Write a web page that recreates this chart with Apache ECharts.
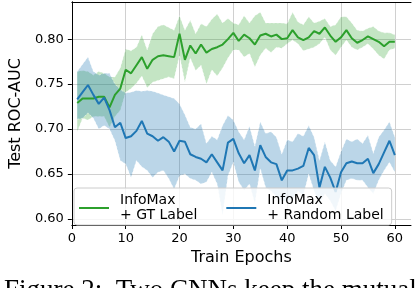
<!DOCTYPE html>
<html>
<head>
<meta charset="utf-8">
<script src="https://cdn.jsdelivr.net/npm/echarts@6/dist/echarts.min.js"></script>
<style>
html,body{margin:0;padding:0;background:#fff;}
#chart{width:416px;height:288px;}
</style>
</head>
<body>
<div id="chart"></div>
<script>
const epochs = [1,2,3,4,5,6,7,8,9,10,11,12,13,14,15,16,17,18,19,20,21,22,23,24,25,26,27,28,29,30,31,32,33,34,35,36,37,38,39,40,41,42,43,44,45,46,47,48,49,50,51,52,53,54,55,56,57,58,59,60];

const gtMean = [0.729,0.734,0.734,0.734,0.736,0.736,0.724,0.738,0.745,0.766,0.762,0.771,0.780,0.767,0.777,0.781,0.782,0.781,0.780,0.806,0.777,0.793,0.784,0.794,0.785,0.789,0.791,0.794,0.800,0.807,0.798,0.805,0.801,0.794,0.804,0.806,0.803,0.805,0.800,0.801,0.810,0.802,0.799,0.802,0.809,0.806,0.813,0.804,0.797,0.802,0.810,0.801,0.796,0.799,0.803,0.800,0.797,0.792,0.797,0.797];
const gtUpper = [0.764,0.765,0.764,0.760,0.764,0.762,0.758,0.758,0.768,0.789,0.787,0.791,0.805,0.788,0.806,0.814,0.816,0.813,0.810,0.826,0.810,0.821,0.806,0.817,0.814,0.822,0.828,0.818,0.823,0.818,0.816,0.826,0.818,0.826,0.830,0.818,0.818,0.818,0.818,0.817,0.830,0.819,0.816,0.825,0.818,0.820,0.823,0.814,0.816,0.825,0.825,0.818,0.810,0.809,0.812,0.814,0.809,0.807,0.807,0.805];
const gtLower = [0.697,0.712,0.710,0.714,0.714,0.714,0.702,0.714,0.721,0.741,0.745,0.751,0.759,0.746,0.752,0.754,0.756,0.758,0.756,0.782,0.752,0.779,0.765,0.771,0.750,0.766,0.759,0.768,0.779,0.788,0.788,0.780,0.784,0.769,0.782,0.790,0.785,0.791,0.790,0.795,0.799,0.795,0.787,0.789,0.791,0.795,0.802,0.788,0.782,0.791,0.799,0.791,0.788,0.791,0.795,0.789,0.782,0.778,0.788,0.790];

const rlMean = [0.733,0.741,0.749,0.738,0.728,0.735,0.721,0.702,0.707,0.690,0.692,0.698,0.709,0.695,0.692,0.687,0.691,0.686,0.675,0.687,0.686,0.672,0.669,0.667,0.663,0.672,0.663,0.654,0.685,0.689,0.673,0.662,0.671,0.654,0.682,0.669,0.663,0.661,0.643,0.654,0.654,0.656,0.659,0.679,0.671,0.635,0.658,0.646,0.630,0.652,0.662,0.664,0.662,0.662,0.667,0.651,0.661,0.674,0.687,0.671];
const rlUpper = [0.764,0.772,0.780,0.764,0.760,0.762,0.762,0.750,0.744,0.740,0.741,0.743,0.742,0.743,0.742,0.740,0.738,0.736,0.734,0.728,0.716,0.702,0.700,0.706,0.684,0.692,0.688,0.704,0.715,0.710,0.697,0.688,0.703,0.681,0.708,0.695,0.697,0.691,0.672,0.688,0.686,0.695,0.692,0.704,0.691,0.665,0.686,0.665,0.658,0.675,0.689,0.686,0.689,0.684,0.693,0.673,0.691,0.699,0.708,0.691];
const rlLower = [0.711,0.712,0.718,0.712,0.700,0.704,0.700,0.687,0.665,0.661,0.646,0.665,0.658,0.654,0.646,0.652,0.654,0.645,0.633,0.648,0.650,0.645,0.643,0.639,0.641,0.652,0.639,0.604,0.648,0.663,0.641,0.632,0.639,0.617,0.656,0.635,0.631,0.625,0.620,0.620,0.622,0.631,0.626,0.650,0.631,0.617,0.628,0.620,0.609,0.628,0.643,0.645,0.643,0.643,0.635,0.628,0.643,0.654,0.663,0.652];

const xTicks = [0,10,20,30,40,50,60];
const yTicks = [0.60,0.65,0.70,0.75,0.80];
const seriesNames = {gt: 'InfoMax\n+ GT Label', rl: 'InfoMax\n+ Random Label'};

const GREEN = '#2ca02c', BLUE = '#1f77b4';
const FONT = 'DejaVu Sans';

function pairs(xs, ys) { return xs.map((x, i) => [x, ys[i]]); }

// band drawn as one polygon through the axis scales (api.coord)
function bandSeries(upper, lower, fill) {
  const data = epochs.map((e, i) => [e, lower[i], upper[i]]);
  return {
    type: 'custom', silent: true, z: 1, data: data,
    encode: {x: 0, y: [1, 2]},
    renderItem: function (params, api) {
      if (params.dataIndex !== 0) return null;
      const top = [], bot = [];
      for (let i = 0; i < data.length; i++) {
        top.push(api.coord([data[i][0], data[i][2]]));
        bot.push(api.coord([data[i][0], data[i][1]]));
      }
      const pts = top.concat(bot.slice().reverse());
      const edge = {stroke: 'rgba(255,255,255,0.7)', lineWidth: 0.7, lineDash: [2, 2], fill: null};
      return {
        type: 'group',
        children: [
          {type: 'polygon', shape: {points: pts}, style: {fill: fill, stroke: null}},
          {type: 'polyline', shape: {points: top}, style: edge},
          {type: 'polyline', shape: {points: bot}, style: edge}
        ]
      };
    }
  };
}

const chart = echarts.init(document.getElementById('chart'), null, {renderer: 'canvas'});
chart.setOption({
  animation: false,
  backgroundColor: '#fff',
  grid: {left: 66, right: 5, top: 2, bottom: 63, containLabel: false},
  legend: {
    data: ['gt', 'rl'],
    formatter: n => seriesNames[n],
    left: 74, top: 188,
    orient: 'horizontal',
    padding: [5, 8, 2, 5],
    itemGap: 29,
    itemWidth: 30, itemHeight: 2,
    icon: 'rect',
    backgroundColor: 'rgba(255,255,255,0.8)',
    borderColor: '#cccccc', borderWidth: 1, borderRadius: 3,
    textStyle: {fontFamily: FONT, fontSize: 14, color: '#000', lineHeight: 15, padding: [0, 0, 0, 6]}
  },
  xAxis: [{
    type: 'value', min: 0, max: 63, interval: 10,
    name: 'Train Epochs', nameLocation: 'middle', nameGap: 23,
    nameTextStyle: {fontFamily: FONT, fontSize: 16, color: '#000'},
    axisLine: {show: true, lineStyle: {color: '#000', width: 1}},
    axisTick: {show: true, inside: false, length: 4, lineStyle: {color: '#000'}, customValues: xTicks},
    axisLabel: {fontFamily: FONT, fontSize: 13, color: '#000', margin: 7, customValues: xTicks},
    splitLine: {show: true, lineStyle: {color: '#d0d0d0', width: 1}}
  }, {
    type: 'value', min: 0, max: 63, position: 'top',
    axisLine: {show: true, lineStyle: {color: '#000', width: 1}},
    axisTick: {show: false}, axisLabel: {show: false}, splitLine: {show: false}
  }],
  yAxis: [{
    type: 'value', min: 0.5933, max: 0.8413, splitNumber: 5,
    name: 'Test ROC-AUC', nameLocation: 'middle', nameGap: 44,
    nameTextStyle: {fontFamily: FONT, fontSize: 16, color: '#000'},
    axisLine: {show: true, lineStyle: {color: '#000', width: 1}},
    axisTick: {show: true, inside: false, length: 4, lineStyle: {color: '#000'}, customValues: yTicks},
    axisLabel: {fontFamily: FONT, fontSize: 13, color: '#000', margin: 8, customValues: yTicks,
      formatter: v => v.toFixed(2)},
    splitLine: {show: true, lineStyle: {color: '#d0d0d0', width: 1}}
  }, {
    type: 'value', min: 0.5933, max: 0.8413, position: 'right',
    axisLine: {show: true, lineStyle: {color: '#000', width: 1}},
    axisTick: {show: false}, axisLabel: {show: false}, splitLine: {show: false}
  }],
  graphic: [{
    type: 'text', left: 4, top: 277, silent: true,
    style: {text: 'Figure 2:  Two CNNs keep the mutual', font: '27px "Liberation Serif"', fill: '#000'}
  }],
  series: [
    bandSeries(gtUpper, gtLower, 'rgba(44,160,44,0.28)'),
    bandSeries(rlUpper, rlLower, 'rgba(31,119,180,0.3)'),
    {name: 'gt', type: 'line', data: pairs(epochs, gtMean), symbol: 'none', z: 3,
      color: GREEN, lineStyle: {color: GREEN, width: 2}},
    {name: 'rl', type: 'line', data: pairs(epochs, rlMean), symbol: 'none', z: 3,
      color: BLUE, lineStyle: {color: BLUE, width: 2}}
  ]
});
</script>
</body>
</html>
